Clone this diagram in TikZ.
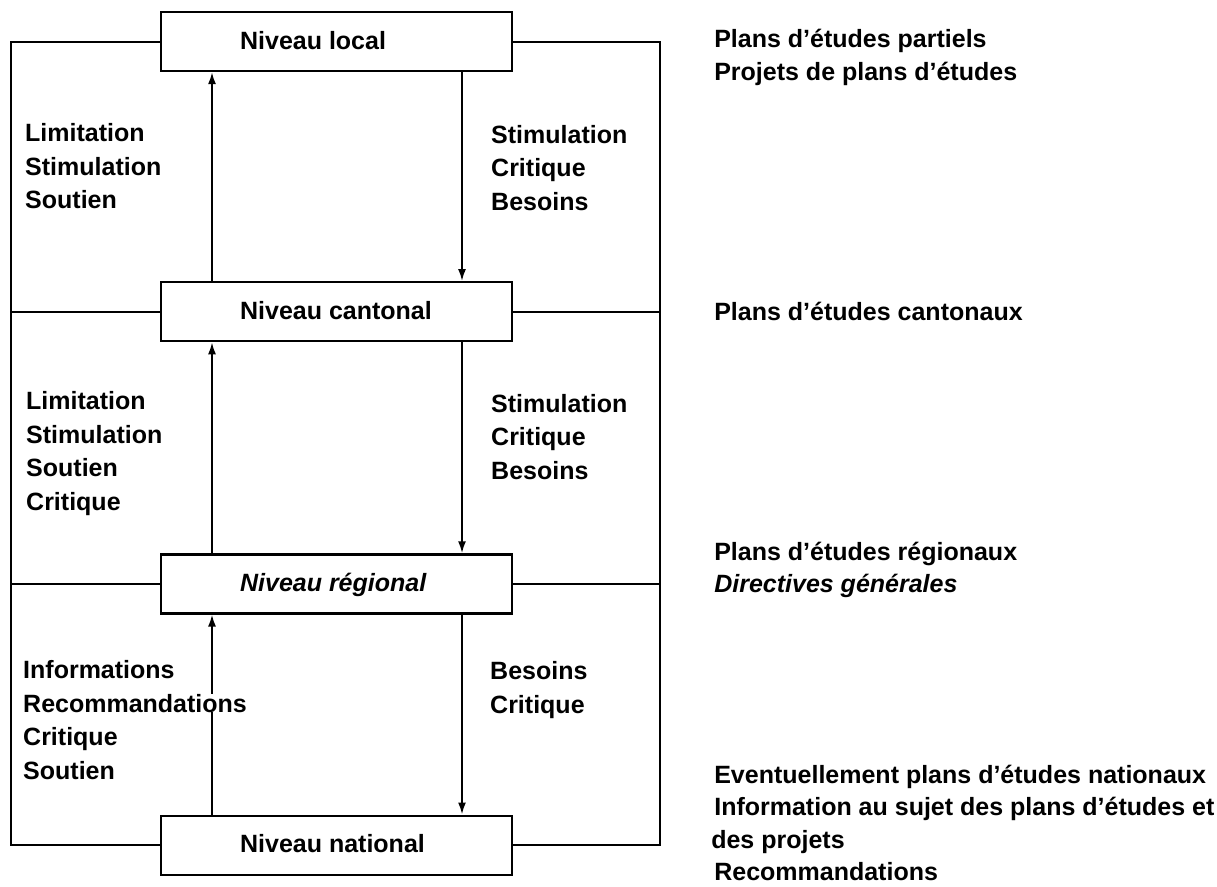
\documentclass[tikz,border=0pt]{standalone}
\usepackage{fontspec}
\setmainfont{Liberation Sans}
\usepackage{xcolor}
\usepackage{tikz}
\usetikzlibrary{arrows.meta}
\usetikzlibrary{positioning}
\tikzset{>={Latex[length=12pt,width=8pt]}}
\tikzset{niveau-line/.style={line width=2pt}}
\tikzset{niveau-box/.style={draw, line width=2.2pt, minimum width=351pt, minimum height=59pt, inner sep=0pt}}
\tikzset{niveau-text/.style={font=\fontsize{25}{30}\selectfont\bfseries, inner sep=0pt, text height=18pt, text depth=5pt}}
\tikzset{flux-text/.style={font=\fontsize{25}{33.5}\selectfont\bfseries, align=left, inner sep=0pt, anchor=west}}
\tikzset{plan-text/.style={font=\fontsize{25}{32.5}\selectfont\bfseries, align=left, inner sep=0pt}}
\newcommand{\blanked}[1]{{\setlength{\fboxsep}{0pt}\colorbox{white}{#1}}}

\begin{document}
\begin{tikzpicture}[x=1pt, y=-1pt]
    \useasboundingbox (0,0) rectangle (1217,886);

    % niveaux
    \node[niveau-box] (local) at (336.5,41.5) {};
    \node[niveau-box, below=209pt of local] (cantonal) {};
    \node[niveau-box, below=211pt of cantonal] (regional) {};
    \node[niveau-box, below=200pt of regional] (national) {};

    \node[niveau-text, right=80pt of local.west, yshift=-1pt] (localtxt) {Niveau local};
    \node[niveau-text, right=80pt of cantonal.west, yshift=-1pt] (cantonaltxt) {Niveau cantonal};
    \node[niveau-text, right=80pt of regional.west, yshift=-1pt] (regionaltxt) {\itshape Niveau régional};
    \node[niveau-text, right=80pt of national.west, yshift=-1pt] (nationaltxt) {Niveau national};

    % liaisons exterieures
    \coordinate (gauche) at (11,0);
    \coordinate (droite) at (660,0);
    \coordinate (montee) at (212,0);
    \coordinate (descente) at (462,0);

    \draw[niveau-line] (local.west) -| (gauche |- national.west) -- (national.west);
    \draw[niveau-line] (local.east) -| (droite |- national.east) -- (national.east);
    \foreach \n in {cantonal, regional} {
        \draw[niveau-line] (\n.west) -- (\n.west -| gauche);
        \draw[niveau-line] (\n.east) -- (\n.east -| droite);
    }

    % fleches
    \foreach \bas/\haut in {cantonal/local, regional/cantonal, national/regional} {
        \draw[->, niveau-line] (\bas.north -| montee) -- (\haut.south -| montee);
        \draw[->, niveau-line] (\haut.south -| descente) -- (\bas.north -| descente);
    }

    \node[flux-text] (monte1) at (25,166.5) {Limitation\\Stimulation\\Soutien};
    \node[flux-text] (descend1) at (491,168) {Stimulation\\Critique\\Besoins};
    \node[flux-text] (monte2) at (26,453.5) {Limitation\\Stimulation\\Soutien\\Critique};
    \node[flux-text] (descend2) at (491,437) {Stimulation\\Critique\\Besoins};
    \node[flux-text] (monte3) at (23,720) {Informations\\\blanked{Recommandations}\\Critique\\Soutien};
    \node[flux-text] (descend3) at (490,690) {Besoins\\Critique};

    % plans
    \node[plan-text, right=201pt of local.east, yshift=-16pt] (planlocal) {Plans d’études partiels\\Projets de plans d’études};
    \node[plan-text, right=201pt of cantonal.east] (plancantonal) {Plans d’études cantonaux};
    \node[plan-text, right=201pt of regional.east, yshift=14pt] (planregional) {Plans d’études régionaux\\\textit{Directives générales}};
    \node[plan-text, right=201pt of national.east, yshift=22pt] (plannational) {Eventuellement plans d’études nationaux\\Information au sujet des plans d’études et\\\hspace*{-3pt}des projets\\Recommandations};
\end{tikzpicture}
\end{document}
